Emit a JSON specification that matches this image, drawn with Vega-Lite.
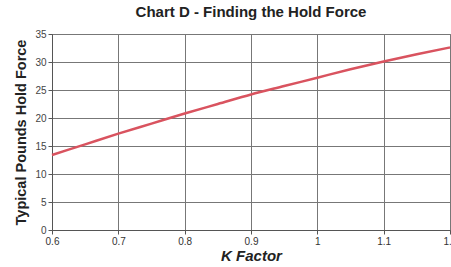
{
  "$schema": "https://vega.github.io/schema/vega-lite/v6.json",
  "width": 398,
  "height": 196,
  "autosize": {"type": "none"},
  "padding": {"left": 52, "top": 34, "right": 1, "bottom": 37},
  "background": "white",
  "title": {"text": "Chart D - Finding the Hold Force", "font": "Liberation Sans", "fontSize": 15, "fontWeight": "bold", "color": "#222", "offset": 9, "anchor": "middle"},
  "data": {"values": [
    {"k": 0.6, "f": 13.4},
    {"k": 0.65, "f": 15.3},
    {"k": 0.7, "f": 17.2},
    {"k": 0.75, "f": 19.0},
    {"k": 0.8, "f": 20.8},
    {"k": 0.85, "f": 22.5},
    {"k": 0.9, "f": 24.2},
    {"k": 0.95, "f": 25.7},
    {"k": 1.0, "f": 27.2},
    {"k": 1.05, "f": 28.7},
    {"k": 1.1, "f": 30.1},
    {"k": 1.15, "f": 31.4},
    {"k": 1.2, "f": 32.6}
  ]},
  "mark": {"type": "line", "color": "#d9535f", "strokeWidth": 2.5, "interpolate": "monotone"},
  "encoding": {
    "x": {"field": "k", "type": "quantitative", "scale": {"domain": [0.6, 1.2], "nice": false, "zero": false},
      "axis": {"values": [0.6, 0.7, 0.8, 0.9, 1.0, 1.1, 1.2], "format": "~g", "title": "K Factor", "titleFont": "Liberation Sans", "titleFontStyle": "italic", "titleFontWeight": "bold", "titleFontSize": 15, "titleColor": "#222", "titlePadding": 2,
        "labelFont": "Liberation Sans", "labelFontSize": 10, "labelColor": "#333", "labelFlush": false, "tickSize": 4, "tickColor": "#555", "domainColor": "#555", "gridColor": "#777", "gridWidth": 1, "labelPadding": 2}},
    "y": {"field": "f", "type": "quantitative", "scale": {"domain": [0, 35], "nice": false},
      "axis": {"values": [0, 5, 10, 15, 20, 25, 30, 35], "title": "Typical Pounds Hold Force", "titleFont": "Liberation Sans", "titleFontWeight": "bold", "titleFontSize": 14.5, "titleColor": "#222", "titlePadding": 6,
        "labelFont": "Liberation Sans", "labelFontSize": 10, "labelColor": "#444", "tickSize": 4, "tickColor": "#555", "domainColor": "#555", "gridColor": "#777", "gridWidth": 1, "labelPadding": 2}}
  },
  "config": {"view": {"stroke": "#777", "strokeWidth": 1}}
}
